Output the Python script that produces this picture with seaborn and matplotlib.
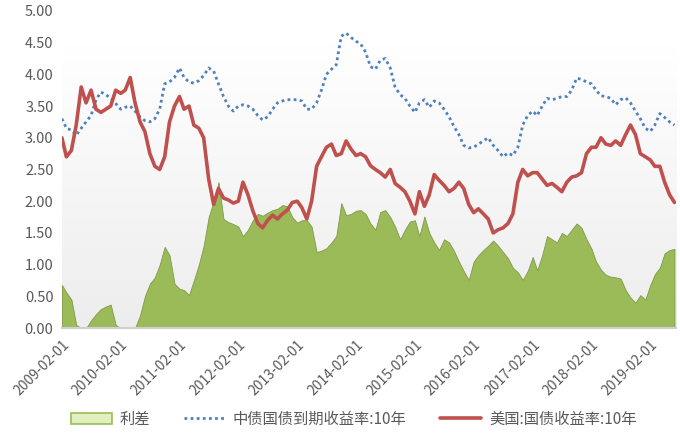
import numpy as np
import pandas as pd
import matplotlib
matplotlib.use("Agg")
import matplotlib.pyplot as plt
import matplotlib.dates as mdates
from matplotlib.patches import Patch
from matplotlib.lines import Line2D
import seaborn as sns

# monthly readings, 2009-02 .. 2019-07
start_month = "2009-02-01"

china_10y = [3.30, 3.15, 3.12, 3.04, 3.15, 3.25, 3.35, 3.60, 3.72, 3.68,
             3.62, 3.54, 3.45, 3.48, 3.50, 3.42, 3.33, 3.27, 3.25, 3.30,
             3.45, 3.85, 3.88, 3.95, 4.10, 3.95, 3.88, 3.86, 3.90, 3.98,
             4.10, 4.05, 3.85, 3.65, 3.50, 3.42, 3.50, 3.52, 3.50, 3.45,
             3.35, 3.28, 3.33, 3.45, 3.55, 3.58, 3.60, 3.60, 3.60, 3.58,
             3.45, 3.45, 3.55, 3.75, 4.00, 4.08, 4.15, 4.60, 4.65, 4.58,
             4.52, 4.48, 4.35, 4.12, 4.08, 4.22, 4.25, 4.10, 3.80, 3.68,
             3.62, 3.50, 3.40, 3.55, 3.60, 3.48, 3.58, 3.55, 3.45, 3.33,
             3.18, 3.05, 2.88, 2.84, 2.85, 2.90, 2.95, 3.00, 2.88, 2.80,
             2.70, 2.76, 2.72, 2.85, 3.20, 3.35, 3.42, 3.35, 3.50, 3.62,
             3.60, 3.62, 3.65, 3.65, 3.75, 3.94, 3.92, 3.88, 3.85, 3.75,
             3.66, 3.65, 3.62, 3.52, 3.60, 3.63, 3.55, 3.42, 3.30, 3.15,
             3.10, 3.20, 3.38, 3.32, 3.25, 3.20]

us_10y = [3.00, 2.70, 2.80, 3.20, 3.80, 3.55, 3.75, 3.45, 3.40, 3.45,
          3.50, 3.75, 3.70, 3.75, 3.95, 3.55, 3.25, 3.10, 2.75, 2.55,
          2.50, 2.70, 3.25, 3.50, 3.65, 3.45, 3.50, 3.20, 3.15, 3.00,
          2.35, 1.95, 2.20, 2.05, 2.02, 1.97, 2.00, 2.30, 2.10, 1.85,
          1.65, 1.58, 1.70, 1.78, 1.72, 1.80, 1.86, 1.98, 2.00, 1.90,
          1.72, 2.00, 2.55, 2.70, 2.85, 2.90, 2.72, 2.75, 2.95, 2.82,
          2.72, 2.75, 2.70, 2.56, 2.50, 2.45, 2.38, 2.50, 2.28, 2.22,
          2.15, 2.00, 1.80, 2.15, 1.92, 2.10, 2.42, 2.33, 2.25, 2.15,
          2.20, 2.30, 2.20, 1.95, 1.82, 1.88, 1.80, 1.72, 1.50, 1.55,
          1.58, 1.65, 1.80, 2.30, 2.50, 2.40, 2.45, 2.45, 2.35, 2.25,
          2.28, 2.22, 2.15, 2.30, 2.38, 2.40, 2.45, 2.75, 2.85, 2.85,
          3.00, 2.90, 2.88, 2.95, 2.88, 3.05, 3.20, 3.05, 2.75, 2.70,
          2.65, 2.55, 2.55, 2.30, 2.10, 1.98]

spread = [0.68, 0.56, 0.45, 0.05, 0.00, 0.00, 0.12, 0.22, 0.30, 0.34,
          0.37, 0.05, 0.00, 0.00, 0.00, 0.00, 0.20, 0.50, 0.70, 0.80,
          1.00, 1.28, 1.15, 0.70, 0.62, 0.60, 0.52, 0.75, 1.00, 1.30,
          1.75, 2.00, 2.30, 1.72, 1.67, 1.64, 1.60, 1.45, 1.55, 1.70,
          1.80, 1.77, 1.82, 1.86, 1.88, 1.94, 1.92, 1.75, 1.66, 1.70,
          1.70, 1.60, 1.20, 1.22, 1.26, 1.35, 1.45, 1.97, 1.78, 1.80,
          1.85, 1.86, 1.80, 1.65, 1.55, 1.83, 1.86, 1.75, 1.60, 1.40,
          1.55, 1.68, 1.70, 1.45, 1.76, 1.50, 1.35, 1.23, 1.40, 1.35,
          1.22, 1.05, 0.90, 0.76, 1.05, 1.15, 1.23, 1.30, 1.38, 1.30,
          1.20, 1.10, 0.95, 0.88, 0.76, 0.90, 1.12, 0.91, 1.15, 1.45,
          1.40, 1.35, 1.50, 1.45, 1.55, 1.65, 1.58, 1.40, 1.25, 1.05,
          0.92, 0.84, 0.81, 0.80, 0.78, 0.60, 0.48, 0.40, 0.52, 0.45,
          0.68, 0.85, 0.95, 1.18, 1.23, 1.25]

tick_labels = ["2009-02-01", "2010-02-01", "2011-02-01", "2012-02-01",
               "2013-02-01", "2014-02-01", "2015-02-01", "2016-02-01",
               "2017-02-01", "2018-02-01", "2019-02-01"]

GREEN = "#9bbb59"
BLUE = "#4f81bd"
RED = "#c0504d"
GREY = "#595959"

dates = pd.date_range(start_month, periods=len(china_10y), freq="MS")
df = pd.DataFrame({"date": dates, "china": china_10y, "us": us_10y,
                   "spread": spread})

sns.set_theme(style="white")
plt.rcParams["font.family"] = ["Noto Sans CJK SC", "DejaVu Sans"]

fig = plt.figure(figsize=(6.8, 4.34), dpi=100)
ax = fig.add_axes([0.091, 0.244, 0.903, 0.731])

xmin = mdates.date2num(pd.Timestamp("2009-02-01"))
xmax = mdates.date2num(pd.Timestamp("2019-07-10"))

# soft grey gradient behind the plot
grad = np.linspace(0, 1, 200).reshape(-1, 1)
ax.imshow(grad, extent=[xmin, xmax, 0, 4.45], aspect="auto",
          cmap=matplotlib.colors.LinearSegmentedColormap.from_list(
              "bg", ["#ededed", "#ffffff"]), origin="lower", zorder=0)

ax.fill_between(df["date"], 0, df["spread"].clip(lower=0), color=GREEN,
                linewidth=0.6, edgecolor="#7f9a48", zorder=2)
sns.lineplot(data=df, x="date", y="china", ax=ax, color=BLUE,
             linestyle=(0, (1, 1.2)), linewidth=2.0, zorder=3)
sns.lineplot(data=df, x="date", y="us", ax=ax, color=RED,
             linewidth=2.6, zorder=4)

ax.set_xlim(xmin, xmax)
ax.set_ylim(0, 5)
ax.set_yticks(np.arange(0, 5.01, 0.5))
ax.set_yticklabels([f"{v:.2f}" for v in np.arange(0, 5.01, 0.5)],
                   color=GREY, fontsize=10.5)
ax.set_xticks([pd.Timestamp(t) for t in tick_labels])
ax.set_xticklabels(tick_labels, rotation=45, ha="right",
                   rotation_mode="anchor", color=GREY, fontsize=10)
ax.set_xlabel("")
ax.set_ylabel("")
ax.grid(False)
for side in ["left", "right", "top"]:
    ax.spines[side].set_visible(False)
ax.spines["bottom"].set_color("#d0d0d0")
ax.spines["bottom"].set_linewidth(1.5)
ax.spines["bottom"].set_zorder(5)
ax.tick_params(axis="x", direction="out", length=4, width=1,
               color="#d0d0d0", pad=3)
ax.tick_params(axis="y", length=0, pad=6)

handles = [Patch(facecolor="#e2f0c0", edgecolor=GREEN, linewidth=1.2),
           Line2D([], [], color=BLUE, linestyle=(0, (1, 1.2)), linewidth=2.0),
           Line2D([], [], color=RED, linewidth=2.6)]
labels = ["利差", "中债国债到期收益率:10年", "美国:国债收益率:10年"]
fig.legend(handles, labels, loc="center", bbox_to_anchor=(0.52, 0.034),
           ncol=3, frameon=False, fontsize=11, labelcolor=GREY,
           handlelength=2.7, columnspacing=2.2, handletextpad=0.5)

fig.savefig("out.png", dpi=100)
